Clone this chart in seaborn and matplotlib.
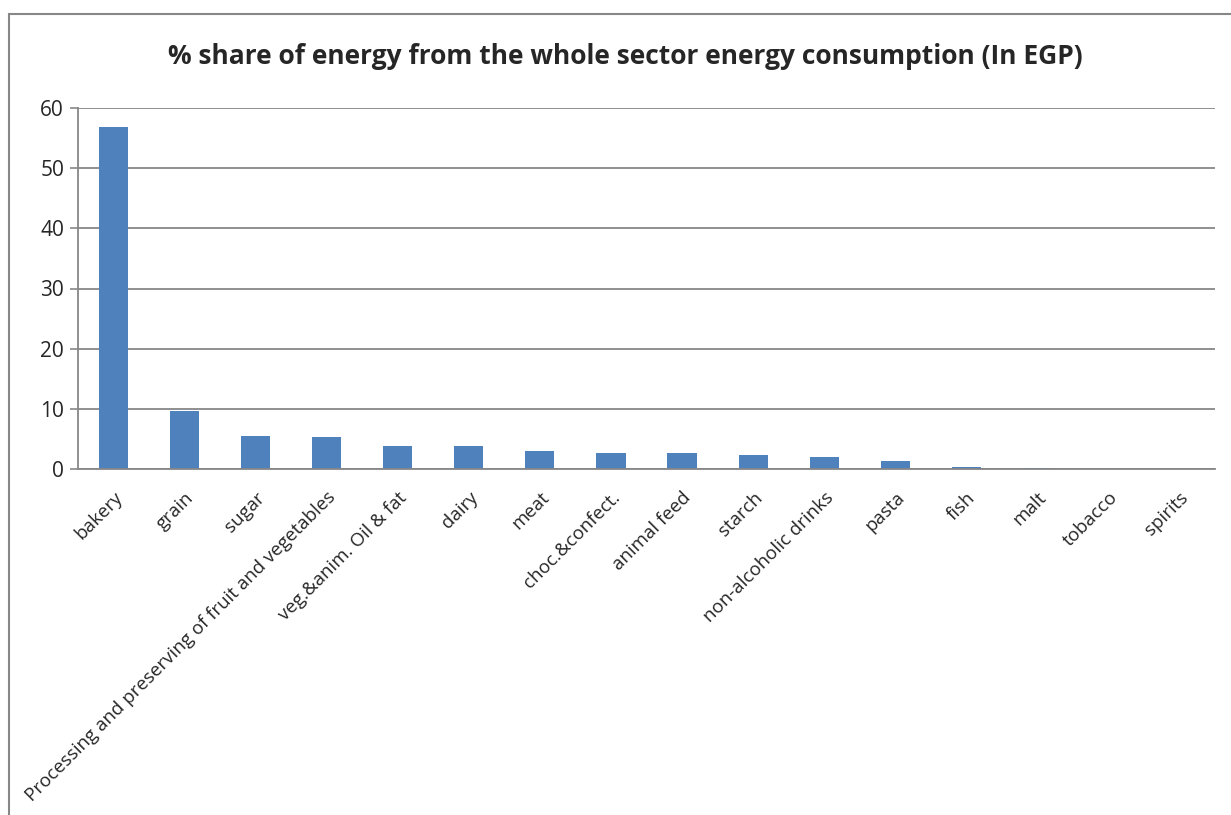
import matplotlib
matplotlib.use("Agg")
import matplotlib.pyplot as plt
import seaborn as sns
import pandas as pd
import numpy as np
from matplotlib.patches import Rectangle

categories = ["bakery", "grain", "sugar", "Processing and preserving of fruit and vegetables",
              "veg.&anim. Oil & fat", "dairy", "meat", "choc.&confect.", "animal feed",
              "starch", "non-alcoholic drinks", "pasta", "fish", "malt", "tobacco", "spirits"]
share = [56.8, 9.6, 5.5, 5.4, 3.85, 3.85, 3.0, 2.7, 2.6, 2.3, 2.05, 1.3, 0.4, 0.15, 0.03, 0.01]
y_ticks = [0, 10, 20, 30, 40, 50, 60]
title = "% share of energy from the whole sector energy consumption (In EGP)"

sns.set_theme(style="white")
plt.rcParams["font.family"] = ["Open Sans", "DejaVu Sans"]

df = pd.DataFrame({"category": categories, "share": share})

fig = plt.figure(figsize=(12.31, 8.15), dpi=100)
ax = fig.add_axes([78 / 1231, 1 - 469 / 815, (1215 - 78) / 1231, (469 - 108) / 815])

sns.barplot(data=df, x="category", y="share", color="#4F81BD", saturation=1,
            width=0.41, ax=ax, order=categories, linewidth=0)

ax.set_ylim(0, 60)
ax.set_xlim(-0.5, len(categories) - 0.5)
ax.set_yticks(y_ticks)
ax.set_yticklabels([str(v) for v in y_ticks], fontsize=15)
ax.yaxis.grid(True, color="#878787", linewidth=1.3)
ax.set_axisbelow(True)
ax.set_xlabel("")
ax.set_ylabel("")

# category labels under the bars, ticks on the category boundaries
ax.set_xticks(range(len(categories)))
ax.set_xticklabels(categories, rotation=45, ha="right", rotation_mode="anchor", fontsize=13.5)
ax.set_xticks(np.arange(-0.5, len(categories)), minor=True)
ax.tick_params(axis="x", which="major", length=0, pad=14)
ax.tick_params(axis="x", which="minor", length=6, width=1.2, color="#878787", direction="out")
ax.tick_params(axis="y", which="major", length=6, width=1.2, color="#878787", direction="out",
               left=True, pad=4)

for side in ["top", "right"]:
    ax.spines[side].set_visible(False)
for side in ["left", "bottom"]:
    ax.spines[side].set_color("#878787")
    ax.spines[side].set_linewidth(1.3)

fig.text(625 / 1231, 1 - 57 / 815, title, ha="center", va="center",
         fontsize=19, fontweight="bold")

# outer chart frame
fig.patches.append(Rectangle((9 / 1231, -0.05), 1.2, 1 - 14 / 815 + 0.05,
                             transform=fig.transFigure, fill=False,
                             edgecolor="#878787", linewidth=1.5))

fig.savefig("out.png", dpi=100)
